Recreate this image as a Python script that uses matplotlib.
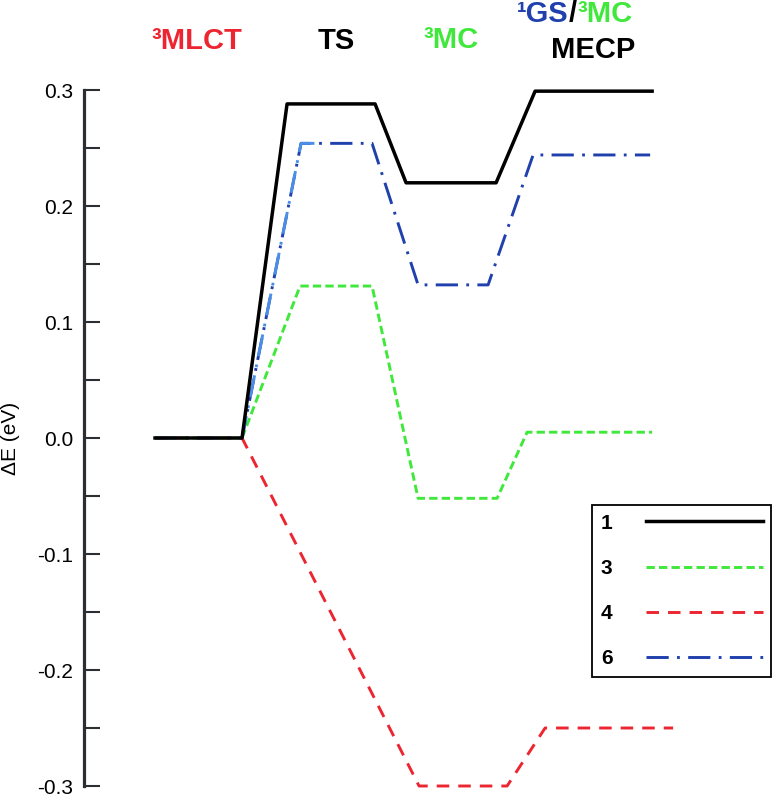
import matplotlib
matplotlib.use("Agg")
import matplotlib.pyplot as plt
import numpy as np

plt.rcParams['font.family'] = ['Liberation Sans', 'DejaVu Sans']
plt.rcParams['lines.scale_dashes'] = False

# States along the reaction coordinate
states = ["3MLCT", "TS", "3MC", "MECP"]

# Energies (eV) for each complex at each state (None = state absent)
E1 = [0.0, 0.288, 0.220, 0.299]
E3 = [0.0, 0.131, -0.052, 0.005]
E4 = [0.0, None, -0.300, -0.250]
E6 = [0.0, 0.254, 0.132, 0.244]

# Plateau extents along the reaction coordinate (arb. units)
X1 = [(0.67, 1.54), (1.99, 2.87), (3.18, 4.08), (4.47, 5.64)]
X3 = [(0.67, 1.54), (2.12, 2.84), (3.30, 4.09), (4.39, 5.64)]
X4 = [(0.67, 1.54), None, (3.31, 4.19), (4.57, 5.85)]
X6 = [(0.67, 1.54), (2.13, 2.84), (3.30, 4.00), (4.45, 5.62)]

labels = ["1", "3", "4", "6"]
colors = {"1": "black", "3": "#3fe83a", "4": "#ec2530", "6": "#1f40ad"}
light_blue = "#4a8ee6"


def path(E, X):
    xs, ys = [], []
    for e, x in zip(E, X):
        if e is None:
            continue
        xs += [x[0], x[1]]
        ys += [e, e]
    return xs, ys


W, H = 784, 799
fig = plt.figure(figsize=(W / 100, H / 100), dpi=100)
ax = fig.add_axes([84 / W, 1 - 786 / H, 0.99 - 84 / W, (786 - 90) / H])

ax.set_xlim(-0.04, 6.88)
ax.set_ylim(-0.3, 0.3)

lw = 2.1
x3, y3 = path(E3, X3)
l3, = ax.plot(x3, y3, color=colors["3"], lw=lw, dashes=(6, 3), clip_on=False, zorder=3)
x4, y4 = path(E4, X4)
l4, = ax.plot(x4, y4, color=colors["4"], lw=lw, dashes=(9, 6.5), clip_on=False, zorder=2)
x6, y6 = path(E6, X6)
l6, = ax.plot(x6, y6, color=colors["6"], lw=lw, dashes=(16, 6, 2, 6), clip_on=False, zorder=4)
# lighter blue on the rising segment
ax.plot([X6[0][1], X6[1][0], X6[1][0] + 0.15], [E6[0], E6[1], E6[1]], color=light_blue, lw=lw,
        dashes=(16, 6, 2, 6), clip_on=False, zorder=4)
x1, y1 = path(E1, X1)
l1, = ax.plot(x1, y1, color=colors["1"], lw=2.5, clip_on=False, zorder=5)

for s in ["top", "right", "bottom"]:
    ax.spines[s].set_visible(False)
ax.spines["left"].set_linewidth(2.3)
ax.spines["left"].set_color("#2b2f33")
ax.set_xticks([])
ax.set_yticks(np.arange(-0.3, 0.31, 0.1))
ax.set_yticks(np.arange(-0.25, 0.3, 0.1), minor=True)
ax.set_yticklabels([f"{v:.1f}" for v in np.arange(-0.3, 0.31, 0.1)])
ax.tick_params(axis="y", which="both", direction="in", length=11.5, width=1.5,
               color="#2b2f33", labelsize=15, pad=8)
ax.set_ylabel("ΔE (eV)", fontsize=15, labelpad=12)

leg = ax.legend([l1, l3, l4, l6], labels, markerfirst=False, loc="upper left",
                bbox_to_anchor=(592 / W, 1 - 505 / H), bbox_transform=fig.transFigure,
                prop={"weight": "bold", "size": 15}, handlelength=5.6, handletextpad=1.6,
                labelspacing=1.26, borderpad=0.42, borderaxespad=0, fancybox=False,
                framealpha=1, edgecolor="black")
leg.get_frame().set_linewidth(1.3)

# State labels on top
fs = 21
fig.text(197 / W, 1 - 41 / H, "³MLCT", color="#ec2530", fontsize=fs, weight="bold", ha="center", va="center")
fig.text(336 / W, 1 - 41 / H, "TS", color="black", fontsize=fs, weight="bold", ha="center", va="center")
fig.text(451 / W, 1 - 40 / H, "³MC", color="#3fe83a", fontsize=fs, weight="bold", ha="center", va="center")
fig.text(593 / W, 1 - 50 / H, "MECP", color="black", fontsize=fs, weight="bold", ha="center", va="center")
fig.text(569 / W, 1 - 14 / H, "¹GS", color="#1f40ad", fontsize=fs, weight="bold", ha="right", va="center")
fig.text(573 / W, 1 - 14 / H, "/", color="black", fontsize=fs, weight="bold", ha="center", va="center")
fig.text(577 / W, 1 - 14 / H, "³MC", color="#3fe83a", fontsize=fs, weight="bold", ha="left", va="center")

fig.savefig("out.png", dpi=100)
